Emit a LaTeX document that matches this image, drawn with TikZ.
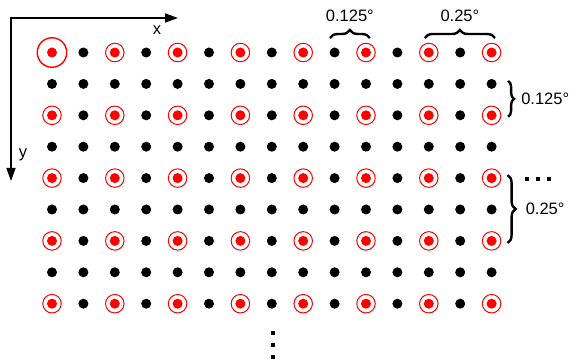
\documentclass[tikz,border=0pt]{standalone}
\usepackage{fontspec}
\setmainfont{Liberation Sans}
\usepackage{tikz}
\usetikzlibrary{arrows.meta,decorations.pathreplacing}
\definecolor{samplered}{RGB}{255, 0, 0}

\begin{document}
\begin{tikzpicture}[x=1pt, y=-1pt,
		dot/.style={circle, fill=black, inner sep=0pt, minimum size=10pt},
		reddot/.style={circle, fill=samplered, inner sep=0pt, minimum size=10pt},
		ring/.style={circle, draw=samplered, line width=1pt, inner sep=0pt, minimum size=18.5pt},
		bigring/.style={circle, draw=samplered, line width=1.4pt, inner sep=0pt, minimum size=29.5pt},
		axis/.style={line width=1.5pt, {Triangle[length=13pt,width=9pt]}-{Triangle[length=13pt,width=9pt]}},
		curly/.style={decorate, decoration={brace, amplitude=#1}, line width=2.4pt},
		angtext/.style={font=\fontsize{16.5}{20}\selectfont, inner sep=0pt},
		sqdot/.style={rectangle, fill=black, inner sep=0pt, minimum size=4pt}]
	\useasboundingbox (0,0) rectangle (571,363);

	% axes
	\coordinate (orig) at (11,18);
	\coordinate (xend) at (178,18);
	\coordinate (yend) at (11,181);
	\draw[axis] (xend) -- (orig) -- (yend);
	\node[angtext] (xlab) at (157,30) {x};
	\node[angtext] (ylab) at (23,155) {y};

	% sampling grid
	\foreach \c in {0,...,14} {
		\foreach \r in {0,...,8} {
			\pgfmathtruncatemacro{\odd}{mod(\c,2)+mod(\r,2)}
			\pgfmathtruncatemacro{\first}{\c+\r}
			\ifnum\odd=0
				\node[reddot] (p-\c-\r) at (52+31.4*\c, 52.5+31.4*\r) {};
				\ifnum\first=0
					\node[bigring] (c-\c-\r) at (p-\c-\r) {};
				\else
					\node[ring] (c-\c-\r) at (p-\c-\r) {};
				\fi
			\else
				\node[dot] (p-\c-\r) at (52+31.4*\c, 52.5+31.4*\r) {};
			\fi
		}
	}

	% spacing braces
	\draw[curly=8pt] ([shift={(-4.6,-14.5)}]p-9-0.center) -- node[angtext, above=15pt] {0.125°} ([shift={(3.8,-14.5)}]p-10-0.center);
	\draw[curly=8pt] ([shift={(-4,-14.5)}]p-12-0.center) -- node[angtext, above=15pt] {0.25°} ([shift={(3.4,-14.5)}]p-14-0.center);
	\draw[curly=6pt] ([shift={(16.5,-3)}]p-14-1.center) -- node[angtext, right=12pt] {0.125°} ([shift={(16.5,1.5)}]p-14-2.center);
	\draw[curly=8pt] ([shift={(16,-3)}]p-14-4.center) -- node[angtext, right=17pt] {0.25°} ([shift={(16,2)}]p-14-6.center);

	% continuation marks
	\foreach \k in {0,1,2} {
		\node[sqdot] (hd-\k) at ([shift={(35+11*\k,1)}]p-14-4.center) {};
		\node[sqdot] (vd-\k) at ([shift={(0.7,29.5+12*\k)}]p-7-8.center) {};
	}
\end{tikzpicture}
\end{document}
